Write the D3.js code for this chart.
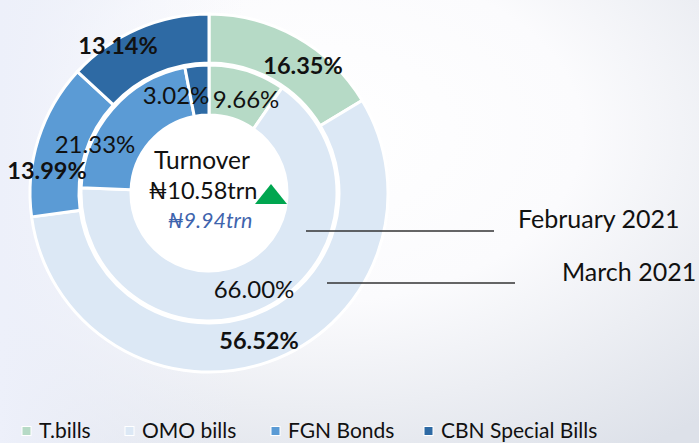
<!DOCTYPE html>
<html lang="en">
<head>
<meta charset="utf-8">
<title>Turnover by instrument</title>
<script src="https://d3js.org/d3.v7.min.js"></script>
<style>
  body { margin: 0; }
  svg { display: block; font-family: Lato, "Open Sans", "DejaVu Sans", sans-serif; }
</style>
</head>
<body>
<script>
// categories and shares (%)
var categories = ["T.bills", "OMO bills", "FGN Bonds", "CBN Special Bills"];
var colors = ["#b6dac6", "#dce8f5", "#5b9bd5", "#2e6aa4"];
var febValues = [9.66, 66.00, 21.33, 3.02];      // inner ring
var marValues = [16.35, 56.52, 13.99, 13.14];    // outer ring
var febLabels = ["9.66%", "66.00%", "21.33%", "3.02%"];
var marLabels = ["16.35%", "56.52%", "13.99%", "13.14%"];
var ringNames = ["February 2021", "March 2021"];
var turnoverNow = "\u20A610.58trn";
var turnoverPrev = "\u20A69.94trn";

var w = 699, h = 443;
var cx = 209, cy = 193;

var svg = d3.select("body").append("svg")
  .attr("width", w)
  .attr("height", h);

// background
var defs = svg.append("defs");
var grad = defs.append("radialGradient")
  .attr("id", "bg")
  .attr("cx", "0.45").attr("cy", "0.3").attr("r", "0.85");
grad.append("stop").attr("offset", "0").attr("stop-color", "#ffffff");
grad.append("stop").attr("offset", "0.45").attr("stop-color", "#fbfbfd");
grad.append("stop").attr("offset", "1").attr("stop-color", "#dde1e9");
svg.append("rect").attr("width", w).attr("height", h).attr("fill", "url(#bg)");
var lgrad = defs.append("linearGradient").attr("id", "bgl")
  .attr("x1", "0").attr("x2", "1").attr("y1", "0").attr("y2", "0");
lgrad.append("stop").attr("offset", "0").attr("stop-color", "#edf0fa").attr("stop-opacity", 1);
lgrad.append("stop").attr("offset", "0.35").attr("stop-color", "#edf0fa").attr("stop-opacity", 0);
svg.append("rect").attr("width", w).attr("height", h).attr("fill", "url(#bgl)");

var pie = d3.pie().sort(null).value(function(d) { return d; });

var g = svg.append("g").attr("transform", "translate(" + cx + "," + cy + ")");

// white hole
g.append("circle").attr("r", 78).attr("fill", "#ffffff");

var rings = [
  { values: febValues, labels: febLabels, inner: 78, outer: 128, bold: false, size: 24, pos: [[37, -93], [45, 97], [-114, -48], [-33, -97]] },
  { values: marValues, labels: marLabels, inner: 130, outer: 179, bold: true, size: 23.5, pos: [[94, -127], [50, 148], [-162, -22], [-91, -147]] }
];

var arcLayer = g.append("g");
var labelLayer = g.append("g");

rings.forEach(function(ring) {
  var arc = d3.arc().innerRadius(ring.inner).outerRadius(ring.outer);
  var arcs = pie(ring.values);
  arcLayer.append("g").selectAll("path")
    .data(arcs)
    .enter().append("path")
    .attr("d", arc)
    .attr("fill", function(d, i) { return colors[i]; })
    .attr("stroke", "#ffffff")
    .attr("stroke-width", 3);

  labelLayer.append("g").selectAll("text")
    .data(arcs)
    .enter().append("text")
    .attr("x", function(d, i) { return ring.pos[i][0]; })
    .attr("y", function(d, i) { return ring.pos[i][1]; })
    .attr("dy", "0.35em")
    .attr("text-anchor", "middle")
    .attr("font-size", ring.size)
    .attr("font-weight", ring.bold ? "bold" : "normal")
    .attr("fill", "#111")
    .text(function(d, i) { return ring.labels[i]; });
});

// centre text
g.append("text").attr("x", -7).attr("y", -33).attr("dy", "0.35em")
  .attr("text-anchor", "middle").attr("font-size", 24.5).attr("fill", "#111")
  .text("Turnover");
g.append("text").attr("x", -6).attr("y", -2).attr("dy", "0.35em")
  .attr("text-anchor", "middle").attr("font-size", 23.5).attr("fill", "#111")
  .text(turnoverNow);
g.append("text").attr("x", 1).attr("y", 27).attr("dy", "0.35em")
  .attr("text-anchor", "middle").attr("font-size", 21.5).attr("font-style", "italic")
  .attr("fill", "#3f64ad")
  .text(turnoverPrev);
g.append("path")
  .attr("d", "M46,11L62,-9L78,11Z")
  .attr("fill", "#00a650");

// ring callouts
var callouts = [
  { x1: 306, x2: 494, y: 231, tx: 518, ty: 219 },
  { x1: 327, x2: 515, y: 283, tx: 562, ty: 272 }
];
callouts.forEach(function(c, i) {
  svg.append("line")
    .attr("x1", c.x1).attr("x2", c.x2).attr("y1", c.y).attr("y2", c.y)
    .attr("stroke", "#333").attr("stroke-width", 1.3);
  svg.append("text").attr("x", c.tx).attr("y", c.ty).attr("dy", "0.35em")
    .attr("font-size", 25).attr("fill", "#111").text(ringNames[i]);
});

// legend
var legendX = [22, 125, 271, 424];
var legend = svg.append("g").selectAll("g")
  .data(categories)
  .enter().append("g")
  .attr("transform", function(d, i) { return "translate(" + legendX[i] + ",431)"; });
legend.append("rect")
  .attr("x", 0).attr("y", -4.5).attr("width", 9).attr("height", 9)
  .attr("fill", function(d, i) { return colors[i]; })
  .attr("stroke", "#ffffff").attr("stroke-width", 1);
legend.append("text")
  .attr("x", 17).attr("y", 0).attr("dy", "0.35em")
  .attr("font-size", 21).attr("fill", "#111")
  .text(function(d) { return d; });
</script>
</body>
</html>
